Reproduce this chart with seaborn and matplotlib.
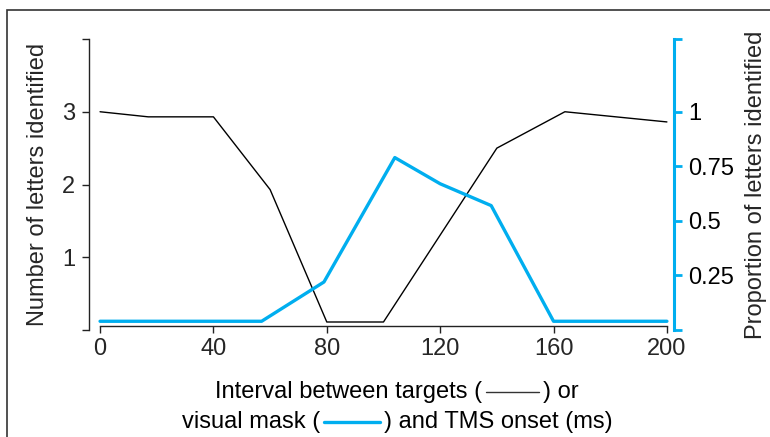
import matplotlib
matplotlib.use("Agg")
import matplotlib.pyplot as plt
import seaborn as sns
import pandas as pd
from matplotlib.patches import Rectangle
from matplotlib.lines import Line2D
from matplotlib.offsetbox import TextArea, DrawingArea, HPacker, VPacker, AnchoredOffsetbox

# ---- data ----
target_interval = [0, 17, 40, 60, 80, 100, 140, 164, 200]
letters_identified = [3.0, 2.93, 2.93, 1.93, 0.11, 0.11, 2.5, 3.0, 2.86]

tms_onset = [0, 57, 79, 104, 120, 138, 160, 200]
proportion_identified = [0.04, 0.04, 0.22, 0.79, 0.67, 0.57, 0.04, 0.04]

x_ticks = [0, 40, 80, 120, 160, 200]
left_ticks = [0, 1, 2, 3, 4]
left_labels = ["", "1", "2", "3", ""]
right_ticks = [0, 0.25, 0.5, 0.75, 1, 4 / 3]
right_labels = ["", "0.25", "0.5", "0.75", "1", ""]

BLUE = "#00AEEF"

sns.set_style("white")
plt.rcParams["font.family"] = ["Liberation Sans", "DejaVu Sans"]
FS = 17

fig = plt.figure(figsize=(7.7, 4.37), dpi=100)
W, H = 770, 437
ax = fig.add_axes([89 / W, 1 - 330 / H, (674 - 89) / W, (330 - 39) / H])

df_black = pd.DataFrame({"x": target_interval, "y": letters_identified})
df_blue = pd.DataFrame({"x": tms_onset, "y": proportion_identified})

sns.lineplot(data=df_black, x="x", y="y", ax=ax, color="black", lw=1.0)
ax.set_xlim(-3.9, 202.5)
ax.set_ylim(0, 4)

ax2 = ax.twinx()
sns.lineplot(data=df_blue, x="x", y="y", ax=ax2, color=BLUE, lw=2.4)
ax2.set_ylim(0, 4 / 3)
ax2.set_xlim(-3.9, 202.5)

for a in (ax, ax2):
    for s in a.spines.values():
        s.set_visible(False)

# bottom axis
ax.spines["bottom"].set_visible(True)
ax.spines["bottom"].set_bounds(0, 200)
ax.spines["bottom"].set_position(("outward", -3))
ax.spines["bottom"].set_color("#222222")
ax.spines["bottom"].set_linewidth(1.0)
ax.set_xticks(x_ticks)
ax.set_xticklabels([str(t) for t in x_ticks])
ax.tick_params(axis="x", direction="out", length=5, width=1, color="#222222",
               labelsize=FS, pad=4, bottom=True)

# left axis
ax.spines["left"].set_visible(True)
ax.spines["left"].set_bounds(0, 4)
ax.spines["left"].set_color("#222222")
ax.spines["left"].set_linewidth(1.0)
ax.set_yticks(left_ticks)
ax.set_yticklabels(left_labels)
ax.tick_params(axis="y", direction="out", length=5, width=1, color="#222222",
               labelsize=FS, pad=5, left=True)
ax.set_ylabel("Number of letters identified", fontsize=FS, labelpad=9)
ax.set_xlabel("")

# right axis
ax2.spines["right"].set_visible(True)
ax2.spines["right"].set_bounds(0, 4 / 3)
ax2.spines["right"].set_color(BLUE)
ax2.spines["right"].set_linewidth(2.2)
ax2.set_yticks(right_ticks)
ax2.set_yticklabels(right_labels)
ax2.tick_params(axis="y", direction="out", length=6, width=2, color=BLUE,
                labelsize=FS, pad=4, right=True, labelcolor="black")
ax2.set_ylabel("Proportion of letters identified", fontsize=FS, labelpad=8)
ax2.set_xlabel("")

# composite x label with line samples
def dash(color, lw, width):
    da = DrawingArea(width, 10, 0, 0)
    da.add_artist(Line2D([1, width - 1], [5, 5], color=color, lw=lw))
    return da

tp = dict(fontsize=FS, color="black")
line1 = HPacker(children=[TextArea("Interval between targets (", textprops=tp),
                          dash("#333333", 1.0, 40),
                          TextArea(") or", textprops=tp)],
                align="center", pad=0, sep=2)
line2 = HPacker(children=[TextArea("visual mask (", textprops=tp),
                          dash(BLUE, 2.4, 42),
                          TextArea(") and TMS onset (ms)", textprops=tp)],
                align="center", pad=0, sep=2)
vp = VPacker(children=[line1, line2], align="center", pad=0, sep=6)
anch = AnchoredOffsetbox(loc="upper center", child=vp, frameon=False, pad=0,
                         bbox_to_anchor=(397 / W, 1 - 381 / H),
                         bbox_transform=fig.transFigure, borderpad=0)
fig.add_artist(anch)

# figure frame
fig.patches.append(Rectangle((7 / W, -0.1), 1.2, 1 - 10 / H + 0.1, transform=fig.transFigure,
                             fill=False, edgecolor="#333333", lw=1.2, figure=fig))

fig.savefig("out.png", dpi=100)
